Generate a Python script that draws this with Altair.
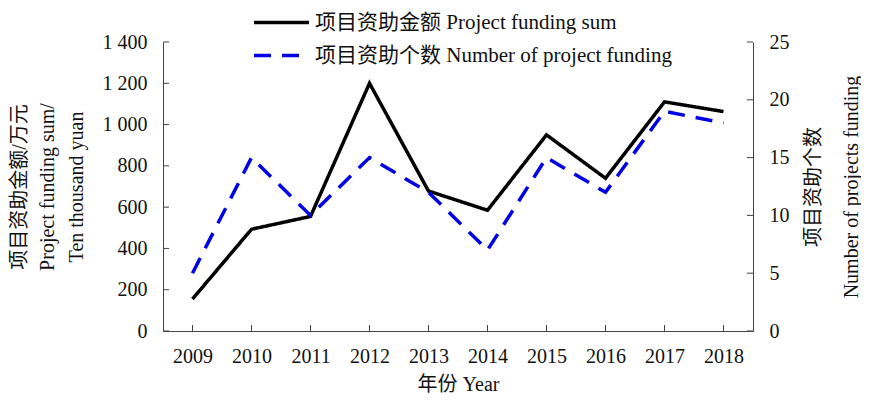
import altair as alt
import pandas as pd

years = ["2009", "2010", "2011", "2012", "2013", "2014", "2015", "2016", "2017", "2018"]
funding_sum = [155, 493, 555, 1200, 678, 585, 950, 740, 1110, 1063]
funding_count = [5, 15, 10, 15, 12, 7, 15, 12, 19, 18]
sum_ticks = [0, 200, 400, 600, 800, 1000, 1200, 1400]
count_ticks = [0, 5, 10, 15, 20, 25]
series_names = ["项目资助金额 Project funding sum", "项目资助个数 Number of project funding"]
series_colors = ["#000000", "#0000e6"]
series_dashes = [[1, 0], [17, 11]]

W, H = 590, 289
FONT = "'Liberation Serif', 'Noto Sans CJK SC', serif"
AXIS_COLOR = "#444444"
FS = 20

df_sum = pd.DataFrame({"year": years, "sum": funding_sum, "series": series_names[0]})
df_cnt = pd.DataFrame({"year": years, "count": funding_count, "series": series_names[1]})
df_sum_ticks = pd.DataFrame({"sum": sum_ticks})
df_cnt_ticks = pd.DataFrame({"count": count_ticks})
df_year_ticks = pd.DataFrame({"year": years})

x_enc = alt.X(
    "year:O",
    scale=alt.Scale(type="point", padding=0.5),
    axis=alt.Axis(title="年份 Year", labelAngle=0, ticks=False, labelPadding=15,
                  titlePadding=8, domainColor=AXIS_COLOR),
)

legend = alt.Legend(
    title=None, orient="none", legendX=103, legendY=-35,
    symbolType="M-2,0H2", symbolSize=756, symbolStrokeWidth=3.5,
    symbolFillColor="transparent",
    labelFontSize=21, labelFont=FONT, labelOffset=18, labelLimit=700,
    rowPadding=7,
)
color_enc = alt.Color("series:N", scale=alt.Scale(domain=series_names, range=series_colors), legend=legend)
dash_enc = alt.StrokeDash("series:N", scale=alt.Scale(domain=series_names, range=series_dashes), legend=legend)

sum_scale = alt.Scale(domain=[0, 1400], nice=False)
cnt_scale = alt.Scale(domain=[0, 25], nice=False)

left_axis = alt.Axis(
    title=["项目资助金额/万元", "Project funding sum/", "Ten thousand yuan"],
    values=sum_ticks, ticks=False, grid=False, labelPadding=16,
    labelExpr="replace(format(datum.value, ','), ',', ' ')",
    titleAngle=270, titleX=-144, titleY=H / 2, titleBaseline="middle",
    titleAlign="center", titleLineHeight=28.5, domainColor=AXIS_COLOR,
)
right_axis = alt.Axis(
    orient="right",
    title=["项目资助个数", "Number of projects funding"],
    values=count_ticks, ticks=False, grid=False, labelPadding=16,
    titleAngle=270, titleX=60, titleY=H / 2, titleBaseline="middle",
    titleAlign="center", titleLineHeight=38, domainColor=AXIS_COLOR,
)

sum_line = alt.Chart(df_sum).mark_line(strokeWidth=3.5).encode(
    x=x_enc, y=alt.Y("sum:Q", scale=sum_scale, axis=left_axis),
    color=color_enc, strokeDash=dash_enc,
)
sum_tick_marks = alt.Chart(df_sum_ticks).mark_rule(color=AXIS_COLOR, strokeWidth=1).encode(
    y=alt.Y("sum:Q", scale=sum_scale, axis=left_axis), x=alt.value(0), x2=alt.value(6),
)
year_tick_marks = alt.Chart(df_year_ticks).mark_rule(color=AXIS_COLOR, strokeWidth=1).encode(
    x=x_enc, y=alt.value(H), y2=alt.value(H - 6),
)

cnt_line = alt.Chart(df_cnt).mark_line(strokeWidth=3.5).encode(
    x=x_enc, y=alt.Y("count:Q", scale=cnt_scale, axis=right_axis),
    color=color_enc, strokeDash=dash_enc,
)
cnt_tick_marks = alt.Chart(df_cnt_ticks).mark_rule(color=AXIS_COLOR, strokeWidth=1).encode(
    y=alt.Y("count:Q", scale=cnt_scale, axis=right_axis), x=alt.value(W), x2=alt.value(W - 6),
)

left = alt.layer(sum_line, sum_tick_marks, year_tick_marks)
right = alt.layer(cnt_line, cnt_tick_marks)

chart = (
    alt.layer(left, right)
    .resolve_scale(y="independent")
    .properties(
        width=W, height=H,
        padding={"left": 155, "top": 34, "right": 108, "bottom": 63},
        autosize=alt.AutoSizeParams(type="none"),
    )
    .configure(font=FONT)
    .configure_view(stroke=None)
    .configure_axis(
        labelFont=FONT, titleFont=FONT, labelFontSize=FS, titleFontSize=FS,
        titleFontWeight="normal", labelColor="#111111", titleColor="#111111",
    )
    .configure_legend(labelColor="#111111")
)

chart.save("out.html", embed_options={"renderer": "svg", "actions": False})
